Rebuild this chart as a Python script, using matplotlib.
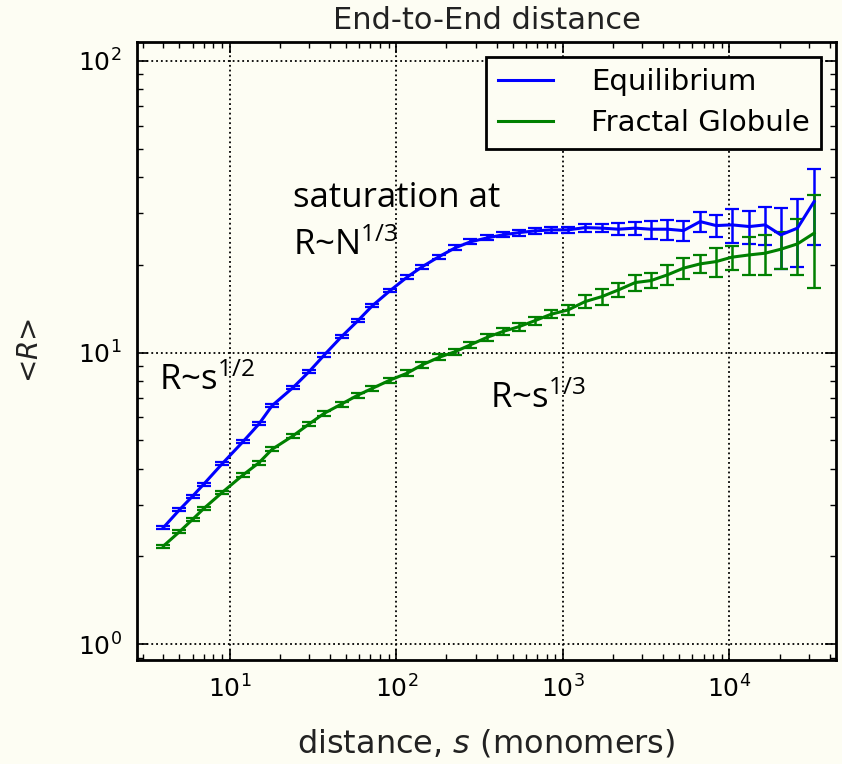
import matplotlib
matplotlib.use("Agg")
import matplotlib.pyplot as plt
from matplotlib.ticker import LogLocator

# data (s in monomers, <R> and its error)
s = [4, 5, 6, 7, 9, 12, 15, 18, 24, 30, 37, 47, 59, 72, 92, 116, 143, 181, 226, 278,
     352, 436, 547, 682, 851, 1077, 1361, 1715, 2157, 2716, 3374, 4244, 5297, 6668,
     8318, 10330, 13180, 16370, 20330, 25590, 32210]

r_equil = [2.51, 2.89, 3.22, 3.54, 4.15, 4.94, 5.69, 6.58, 7.58, 8.60, 9.81, 11.34,
           12.87, 14.48, 16.31, 18.12, 19.67, 21.33, 22.85, 23.95, 24.72, 25.31, 25.77,
           26.12, 26.33, 26.33, 26.81, 26.69, 26.47, 26.69, 26.47, 26.47, 26.18, 28.11,
           27.24, 27.39, 27.03, 27.39, 25.31, 26.69, 32.92]
err_equil = [0.03, 0.034, 0.038, 0.042, 0.049, 0.058, 0.067, 0.078, 0.09, 0.10, 0.12,
             0.13, 0.15, 0.17, 0.19, 0.29, 0.31, 0.34, 0.45, 0.47, 0.49, 0.50, 0.61,
             0.62, 0.62, 0.69, 0.85, 0.84, 1.25, 1.41, 1.88, 2.09, 2.07, 2.22, 2.37,
             3.68, 3.42, 4.11, 6.0, 7.0, 9.5]

r_fractal = [2.17, 2.43, 2.68, 2.92, 3.31, 3.80, 4.19, 4.66, 5.18, 5.69, 6.19, 6.66,
             7.15, 7.54, 8.05, 8.49, 9.07, 9.63, 10.07, 10.62, 11.28, 11.80, 12.27,
             12.87, 13.53, 14.0, 14.95, 15.55, 16.39, 17.37, 17.64, 18.46, 19.46,
             20.13, 20.50, 21.22, 21.61, 21.90, 22.60, 23.57, 25.65]
err_fractal = [0.026, 0.029, 0.032, 0.035, 0.039, 0.06, 0.066, 0.074, 0.082, 0.09,
               0.12, 0.13, 0.14, 0.15, 0.16, 0.20, 0.21, 0.23, 0.24, 0.25, 0.31, 0.33,
               0.39, 0.41, 0.43, 0.55, 0.79, 0.98, 0.87, 1.14, 1.05, 1.46, 1.58, 1.43,
               2.35, 2.01, 3.24, 3.46, 3.21, 5.2, 9.0]

labels = ["Equilibrium", "Fractal Globule"]
bg = "#fdfdf3"

fig = plt.figure(figsize=(8.42, 7.64), dpi=100, facecolor=bg)
ax = fig.add_axes([137 / 842, 1 - 660 / 764, (836 - 137) / 842, (660 - 42) / 764])
ax.set_facecolor(bg)

eb1 = ax.errorbar(s, r_equil, yerr=err_equil, color="#0000ff", lw=2.2,
                  elinewidth=1.8, capsize=5, capthick=1.6)
eb2 = ax.errorbar(s, r_fractal, yerr=err_fractal, color="#008000", lw=2.2,
                  elinewidth=1.8, capsize=5, capthick=1.6)

ax.set_xscale("log")
ax.set_yscale("log")
ax.set_xlim(2.78, 43600)
ax.set_ylim(0.883, 116)

ax.xaxis.set_minor_locator(LogLocator(base=10, subs=range(2, 10), numticks=20))
ax.yaxis.set_minor_locator(LogLocator(base=10, subs=range(2, 10), numticks=20))
ax.tick_params(which="both", direction="in", top=True, right=True, colors="black")
ax.tick_params(which="major", length=8, width=1.2, labelsize=18, pad=11)
ax.tick_params(which="minor", length=4, width=1)
for sp in ax.spines.values():
    sp.set_linewidth(2)

ax.grid(True, which="major", color="black", linestyle=":", linewidth=1.3)

ax.set_title("End-to-End distance", fontsize=22, pad=9, color="#222222")
ax.set_xlabel("distance, $s$ (monomers)", fontsize=23, labelpad=18, color="#222222")
ax.set_ylabel("<$R$>", fontsize=20, labelpad=24, color="#222222")

ann = dict(family="Open Sans", fontsize=25, color="black", va="baseline")
ax.text(24.1, 31.6, "saturation at", **ann)
ax.text(24.1, 21.6, r"R~N$\mathregular{^{1/3}}$", **ann)
ax.text(3.77, 7.44, r"R~s$\mathregular{^{1/2}}$", **ann)
ax.text(366, 6.44, r"R~s$\mathregular{^{1/3}}$", **ann)

leg = ax.legend([eb1[0], eb2[0]], labels, loc="upper right", fontsize=21,
                fancybox=False, framealpha=1, edgecolor="black", facecolor=bg,
                handlelength=1.9, handletextpad=1.3, borderpad=0.4,
                labelspacing=0.45, borderaxespad=0.5, bbox_to_anchor=(1.0, 1.0))
leg.get_frame().set_linewidth(2)

fig.savefig("out.png", dpi=100, facecolor=bg)
